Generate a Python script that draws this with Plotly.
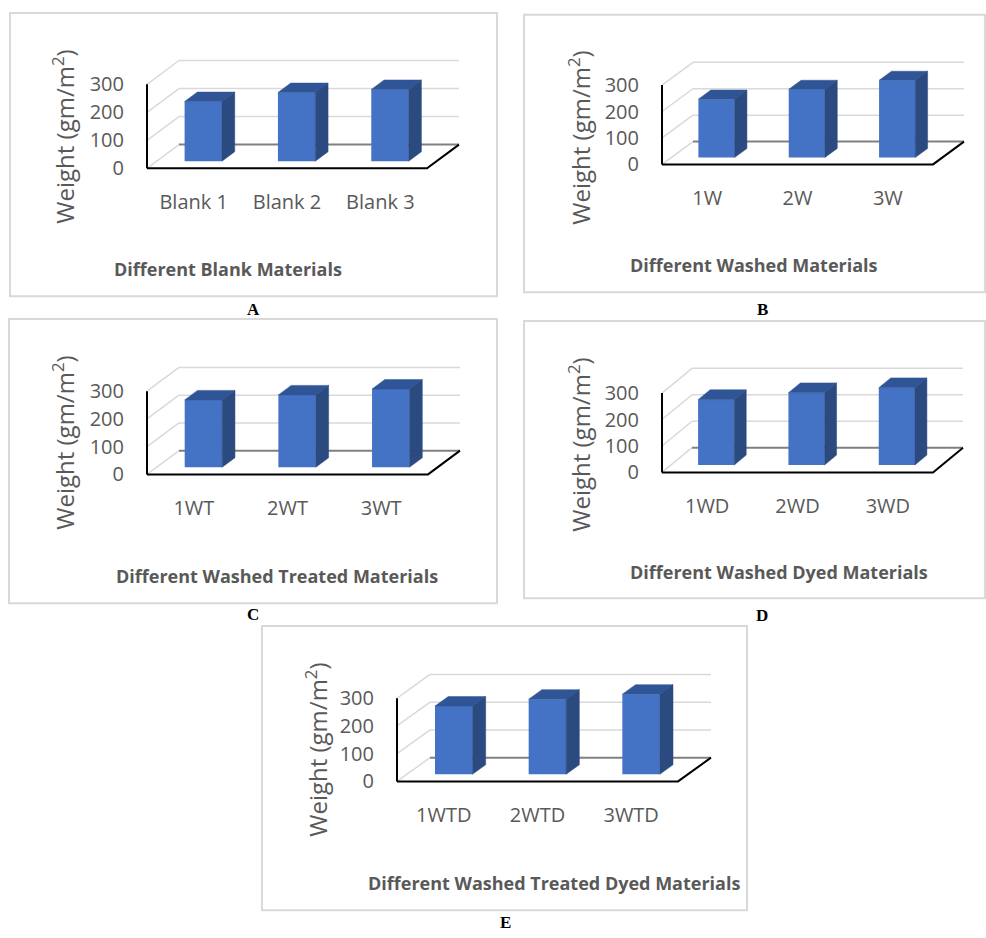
import plotly.graph_objects as go

FIG_W, FIG_H = 986, 938

# ---------------- data ----------------
cats_A = ["Blank 1", "Blank 2", "Blank 3"]
vals_A = [213, 245, 256]
cats_B = ["1W", "2W", "3W"]
vals_B = [221, 258, 292]
cats_C = ["1WT", "2WT", "3WT"]
vals_C = [243, 261, 282]
cats_D = ["1WD", "2WD", "3WD"]
vals_D = [247, 273, 292]
cats_E = ["1WTD", "2WTD", "3WTD"]
vals_E = [246, 271, 289]

y_ticks = [0, 100, 200, 300]
y_title = "Weight (gm/m<sup>2</sup>)"
x_titles = ["Different Blank Materials", "Different Washed Materials",
            "Different Washed Treated Materials", "Different Washed Dyed Materials",
            "Different Washed Treated Dyed Materials"]
panel_letters = ["A", "B", "C", "D", "E"]

all_cats = [cats_A, cats_B, cats_C, cats_D, cats_E]
all_vals = [vals_A, vals_B, vals_C, vals_D, vals_E]

# ---------------- geometry (pixels) ----------------
# X0,Y0: front-left floor corner; W: front floor width; S: px per 100 units;
# DX,DY: depth offset of back wall
geo = [
    dict(X0=147, Y0=170, W=280, S=28.3, DX=32, DY=24, yt=(64, 138), xt=(228, 272), let=(253, 312), box=(10, 13, 497, 299)),
    dict(X0=662, Y0=166, W=271, S=26.7, DX=31, DY=23, yt=(580, 139), xt=(754, 268), let=(762, 312), box=(524, 15, 985, 295)),
    dict(X0=147, Y0=479, W=281, S=28.0, DX=32, DY=24, yt=(64, 447), xt=(277, 582), let=(253, 620), box=(9, 322, 497, 609)),
    dict(X0=662, Y0=477, W=271, S=26.7, DX=30, DY=25, yt=(580, 449), xt=(779, 578), let=(762, 621), box=(524, 324, 985, 604)),
    dict(X0=397, Y0=789, W=281, S=28.0, DX=33, DY=24, yt=(317, 757), xt=(554, 892), let=(505, 931), box=(262, 632, 747, 919)),
]

FRONT = "#4472C4"
TOP = "#2F5597"
SIDE = "#2A4A80"
GRID = "#D9D9D9"
TXT = "#595959"
FONT = "Open Sans"
Z0, Z1 = 0.3, 0.7
BW = 0.4
PAD = 4

fig = go.Figure()
shapes = []
annotations = []
layout_axes = {}


def px(x):
    return x / FIG_W


def py(y):
    return (FIG_H - y) / FIG_H


for k, (cats, vals, g) in enumerate(zip(all_cats, all_vals, geo)):
    n = len(cats)
    ppx = g["W"] / n
    ppv = g["S"] / 100.0
    kx = g["DX"] / ppx
    ky = g["DY"] / ppv
    ymax = max(y_ticks)
    xa = "x" if k == 0 else f"x{k+1}"
    ya = "y" if k == 0 else f"y{k+1}"
    xkey = "xaxis" if k == 0 else f"xaxis{k+1}"
    ykey = "yaxis" if k == 0 else f"yaxis{k+1}"
    x_lo, x_hi = -0.5, n - 0.5

    layout_axes[xkey] = dict(
        domain=[px(g["X0"] - PAD), px(g["X0"] + g["W"] + g["DX"] + PAD)],
        range=[x_lo - PAD / ppx, x_hi + kx + PAD / ppx],
        anchor=ya, showgrid=False, zeroline=False, showline=False,
        tickmode="array", tickvals=list(range(n)), ticktext=cats,
        ticks="", ticklabelstandoff=16,
        tickfont=dict(family=FONT, size=20, color=TXT), fixedrange=True,
    )
    layout_axes[ykey] = dict(
        domain=[py(g["Y0"] + PAD), py(g["Y0"] - ymax * ppv - g["DY"] - PAD)],
        range=[-PAD / ppv, ymax + ky + PAD / ppv],
        anchor=xa, showgrid=False, zeroline=False, showline=False,
        tickmode="array", tickvals=y_ticks, ticktext=[str(t) for t in y_ticks],
        ticks="", ticklabelstandoff=18,
        tickfont=dict(family=FONT, size=20, color=TXT), fixedrange=True,
    )

    # gridlines on side + back wall (below traces)
    for t in y_ticks:
        shapes.append(dict(type="line", xref=xa, yref=ya, layer="below",
                           x0=x_lo, y0=t, x1=x_lo + kx, y1=t + ky,
                           line=dict(color=GRID, width=1.5)))
        shapes.append(dict(type="line", xref=xa, yref=ya, layer="below",
                           x0=x_lo + kx, y0=t + ky, x1=x_hi + kx, y1=t + ky,
                           line=dict(color="#808080" if t == 0 else GRID, width=2 if t == 0 else 1.5)))

    xs = [i + Z0 * kx for i in range(n)]
    # front faces
    fig.add_trace(go.Bar(x=xs, y=vals, base=Z0 * ky, width=BW, marker=dict(color=FRONT, line=dict(width=0)),
                         xaxis=xa, yaxis=ya, showlegend=False, hoverinfo="skip"))
    ddx = (Z1 - Z0) * kx
    ddy = (Z1 - Z0) * ky
    b0 = Z0 * ky
    for i, v in enumerate(vals):
        xl = xs[i] - BW / 2
        xr = xs[i] + BW / 2
        # top face
        fig.add_trace(go.Scatter(
            x=[xl, xr, xr + ddx, xl + ddx, xl],
            y=[v + b0, v + b0, v + b0 + ddy, v + b0 + ddy, v + b0],
            fill="toself", fillcolor=TOP, mode="lines", line=dict(color=TOP, width=0.5),
            xaxis=xa, yaxis=ya, showlegend=False, hoverinfo="skip"))
        # side face
        fig.add_trace(go.Scatter(
            x=[xr, xr, xr + ddx, xr + ddx, xr],
            y=[b0, v + b0, v + b0 + ddy, b0 + ddy, b0],
            fill="toself", fillcolor=SIDE, mode="lines", line=dict(color=SIDE, width=0.5),
            xaxis=xa, yaxis=ya, showlegend=False, hoverinfo="skip"))

    # front floor edge + right floor edge (black)
    fig.add_trace(go.Scatter(x=[x_lo, x_hi, x_hi + kx], y=[0, 0, ky], mode="lines",
                             line=dict(color="black", width=2), xaxis=xa, yaxis=ya,
                             showlegend=False, hoverinfo="skip"))
    # front vertical axis
    fig.add_trace(go.Scatter(x=[x_lo, x_lo], y=[0, ymax], mode="lines",
                             line=dict(color="black", width=2), xaxis=xa, yaxis=ya,
                             showlegend=False, hoverinfo="skip"))

    # panel box
    bx0, by0, bx1, by1 = g["box"]
    shapes.append(dict(type="rect", xref="paper", yref="paper", layer="below",
                       x0=px(bx0), y0=py(by1), x1=px(bx1), y1=py(by0),
                       line=dict(color="#D9D9D9", width=2)))

    annotations.append(dict(text=y_title, textangle=-90, xref="paper", yref="paper",
                            x=px(g["yt"][0]), y=py(g["yt"][1]), xanchor="center", yanchor="middle",
                            showarrow=False, font=dict(family=FONT, size=24, color=TXT)))
    annotations.append(dict(text="<b>" + x_titles[k] + "</b>", xref="paper", yref="paper",
                            x=px(g["xt"][0]), y=py(g["xt"][1]), xanchor="center", yanchor="middle",
                            showarrow=False, font=dict(family=FONT, size=18, color=TXT)))
    annotations.append(dict(text="<b>" + panel_letters[k] + "</b>", xref="paper", yref="paper",
                            x=px(g["let"][0]), y=py(g["let"][1]), xanchor="center", yanchor="middle",
                            showarrow=False, font=dict(family="Liberation Serif", size=17, color="black")))

fig.update_layout(
    width=FIG_W, height=FIG_H, margin=dict(l=0, r=0, t=0, b=0),
    paper_bgcolor="white", plot_bgcolor="rgba(0,0,0,0)",
    shapes=shapes, annotations=annotations, showlegend=False,
    **layout_axes,
)

fig.write_html("out.html", config={"displayModeBar": False},
               post_script="document.body.style.margin='0';document.body.style.overflow='hidden';")
